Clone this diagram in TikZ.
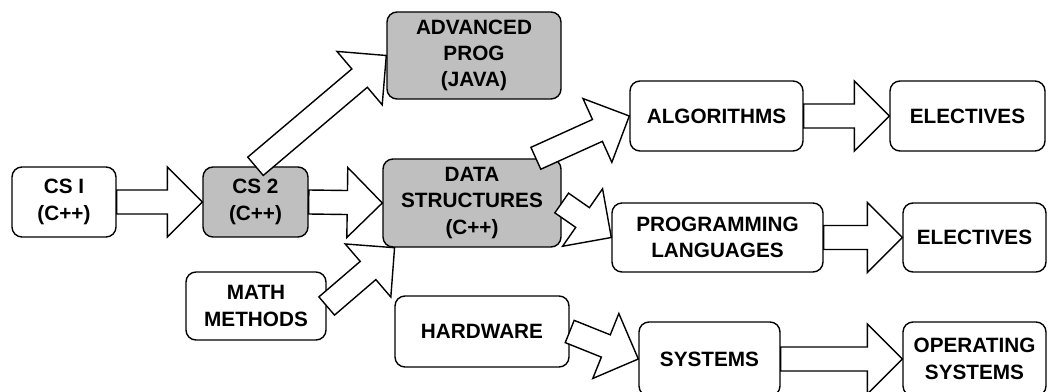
\documentclass[tikz,border=0pt]{standalone}
\usepackage{fontspec}
\setmainfont{Liberation Sans}
\usetikzlibrary{calc}

\tikzset{
    disc/.style={draw, line width=0.8pt, rounded corners=0.2cm, align=center, inner sep=0pt,
        font=\fontsize{11.8}{15}\selectfont\bfseries},
    discbase/.style={disc, fill=gray!50},
    seta/.style={draw, fill=white, line width=0.8pt}
}

\begin{document}
\begin{tikzpicture}
    \useasboundingbox (0,0) rectangle (20.96,7.82);

    % Disciplinas
    \node[disc, minimum width=2.08cm, minimum height=1.40cm] (csum) at (1.28,3.78) {CS I\\(C++)};
    \node[discbase, minimum width=2.10cm, minimum height=1.40cm] (csdois) at (5.11,3.78) {CS 2\\(C++)};
    \node[discbase, minimum width=3.48cm, minimum height=1.74cm] (avancada) at (9.48,6.71) {ADVANCED\\PROG\\(JAVA)};
    \node[discbase, minimum width=3.56cm, minimum height=1.76cm] (estruturas) at (9.44,3.76) {DATA\\STRUCTURES\\(C++)};
    \node[disc, minimum width=2.80cm, minimum height=1.36cm] (matematica) at (5.12,1.70) {MATH\\METHODS};
    \node[disc, minimum width=3.48cm, minimum height=1.42cm] (hardware) at (9.64,1.19) {HARDWARE};
    \node[disc, minimum width=3.46cm, minimum height=1.40cm] (algoritmos) at (14.33,5.50) {ALGORITHMS};
    \node[disc, minimum width=3.10cm, minimum height=1.40cm] (eletivaum) at (19.35,5.50) {ELECTIVES};
    \node[disc, minimum width=4.22cm, minimum height=1.38cm] (linguagens) at (14.35,3.07) {PROGRAMMING\\LANGUAGES};
    \node[disc, minimum width=2.86cm, minimum height=1.38cm] (eletivadois) at (19.49,3.07) {ELECTIVES};
    \node[disc, minimum width=2.82cm, minimum height=1.48cm] (sistemas) at (14.19,0.64) {SYSTEMS};
    \node[disc, minimum width=2.86cm, minimum height=1.48cm] (operacionais) at (19.49,0.64) {OPERATING\\SYSTEMS};

    % Setas (pre-requisitos)
    \foreach \a/\b in {csum.east/csdois.west, csdois.east/estruturas.west, csdois.north/avancada.west,
                       estruturas.35/algoritmos.west, estruturas.east/linguagens.west, matematica.east/estruturas.210,
                       algoritmos.east/eletivaum.west, linguagens.east/eletivadois.west,
                       hardware.east/sistemas.west, sistemas.east/operacionais.west} {
        \coordinate (h) at ($(\b)!0.7cm!(\a)$);
        \draw[seta] ($(\a)!0.24cm!90:(\b)$) -- ($(h)!0.24cm!90:(\b)$) -- ($(h)!0.7cm!90:(\b)$) -- (\b)
            -- ($(h)!0.7cm!-90:(\b)$) -- ($(h)!0.24cm!-90:(\b)$) -- ($(\a)!0.24cm!-90:(\b)$) -- cycle;
    }
\end{tikzpicture}
\end{document}
